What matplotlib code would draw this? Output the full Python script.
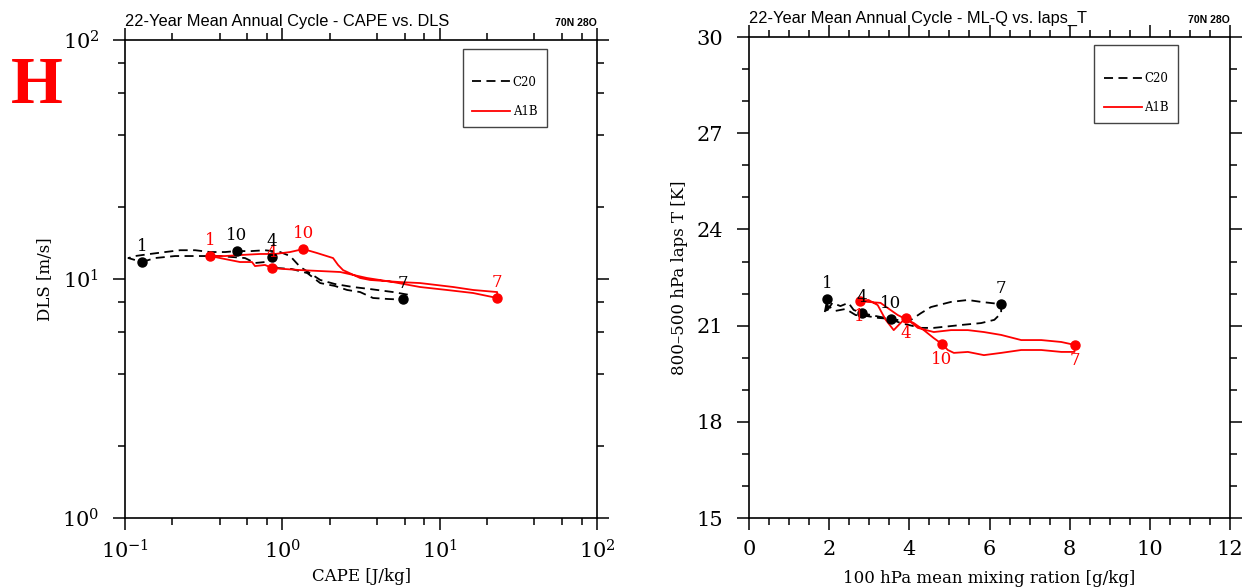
import matplotlib
matplotlib.use("Agg")
import matplotlib.pyplot as plt
from matplotlib.ticker import LogLocator, MultipleLocator, NullFormatter

plt.rcParams["font.family"] = "DejaVu Serif"
plt.rcParams["mathtext.fontset"] = "dejavuserif"

month_labels = ["1", "4", "7", "10"]

# ---- left panel: CAPE vs DLS (annual cycle traced Jan -> Apr -> Jul -> Oct -> Jan)
cape_c20 = [0.128, 0.155, 0.208, 0.300, 0.402, 0.579, 0.670, 0.776, 0.86,
            0.925, 1.15, 1.44, 1.74, 2.16, 2.58, 3.12, 3.77, 4.70, 5.85,
            6.48, 5.06, 3.61, 2.81, 2.16, 1.74, 1.46, 1.30, 1.12, 0.967, 0.776, 0.624, 0.515,
            0.433, 0.347, 0.279, 0.224, 0.180, 0.144, 0.116, 0.105, 0.128]
dls_c20 = [11.78, 12.24, 12.48, 12.48, 12.48, 12.24, 11.67, 11.78, 12.36,
           11.12, 11.01, 10.59, 9.62, 9.35, 9.00, 8.82, 8.33, 8.25, 8.20,
           8.57, 8.82, 9.08, 9.26, 9.53, 9.91, 10.70, 11.22, 12.48, 12.97, 13.2, 13.08, 13.1,
           12.97, 12.97, 13.2, 13.2, 12.97, 12.73, 12.48, 12.24, 11.78]
cape_a1b = [0.347, 0.433, 0.538, 0.641, 0.670, 0.776, 0.86,
            1.04, 1.30, 1.74, 2.33, 3.45, 5.06, 7.50, 11.1, 16.3, 23.2,
            23.2, 16.3, 12.2, 7.50, 5.60, 3.61, 3.12, 2.43, 2.26, 2.10, 1.66, 1.36,
            1.12, 0.899, 0.722, 0.538, 0.433, 0.347]
dls_a1b = [12.48, 12.12, 11.78, 11.78, 11.33, 11.45, 11.12,
           11.01, 10.90, 10.80, 10.70, 10.10, 9.71, 9.26, 9.00, 8.74, 8.33,
           8.82, 9.00, 9.26, 9.62, 9.71, 9.91, 10.10, 10.9, 11.45, 12.24, 12.85, 13.35,
           12.97, 12.73, 12.73, 12.6, 12.48, 12.48]
cape_c20_mon = [0.128, 0.86, 5.85, 0.515]
dls_c20_mon = [11.8, 12.4, 8.25, 13.1]
cape_a1b_mon = [0.347, 0.86, 23.2, 1.36]
dls_a1b_mon = [12.5, 11.1, 8.33, 13.35]

# ---- right panel: 100 hPa mixing ratio vs 800-500 hPa lapse
q_c20 = [1.955, 1.93, 2.08, 2.28, 2.48, 2.61, 2.81,
         3.16, 3.66, 4.04, 4.29, 4.54, 5.04, 5.46, 5.79, 6.29,
         6.29, 6.12, 5.79, 5.29, 4.61, 4.29, 3.78, 3.53,
         3.23, 2.93, 2.66, 2.41, 2.16, 1.98, 1.88, 1.955]
lapse_c20 = [21.83, 21.43, 21.71, 21.61, 21.71, 21.49, 21.39,
             21.30, 21.18, 21.18, 21.39, 21.58, 21.74, 21.80, 21.74, 21.67,
             21.39, 21.18, 21.08, 21.02, 20.93, 20.93, 21.08, 21.21,
             21.24, 21.30, 21.33, 21.52, 21.46, 21.61, 21.36, 21.83]
q_a1b = [2.76, 2.98, 3.21, 3.41, 3.61, 3.78, 3.91,
         4.21, 4.61, 5.04, 5.46, 5.86, 6.29, 6.79, 7.29, 7.79, 8.12,
         8.12, 7.79, 7.29, 6.79, 6.29, 5.86, 5.46, 5.11, 4.96, 4.81,
         4.61, 4.36, 4.11, 3.71, 3.46, 3.28, 2.96, 2.76]
lapse_a1b = [21.77, 21.80, 21.64, 21.18, 20.86, 21.08, 21.24,
             20.93, 20.80, 20.86, 20.86, 20.80, 20.71, 20.55, 20.55, 20.49, 20.40,
             20.18, 20.18, 20.24, 20.24, 20.15, 20.08, 20.18, 20.15, 20.24, 20.43,
             20.61, 20.86, 21.08, 21.33, 21.55, 21.71, 21.74, 21.77]
q_c20_mon = [1.955, 2.81, 6.29, 3.53]
lapse_c20_mon = [21.83, 21.39, 21.67, 21.21]
q_a1b_mon = [2.76, 3.91, 8.12, 4.81]
lapse_a1b_mon = [21.77, 21.24, 20.40, 20.43]

dash = (0, (5, 3))

fig = plt.figure(figsize=(12.54, 5.87), dpi=100)
ax1 = fig.add_axes([0.0997, 0.1175, 0.3764, 0.8143])
ax2 = fig.add_axes([0.5973, 0.1175, 0.3836, 0.8194])


def style_axes(ax):
    for s in ax.spines.values():
        s.set_linewidth(1.2)
    ax.tick_params(which="both", direction="out", top=True, right=True, width=1.1)
    ax.tick_params(which="major", length=8.5, labelsize=15)
    ax.tick_params(which="minor", length=5)
    ax.tick_params(axis="y", which="major", pad=10)
    ax.tick_params(axis="x", which="major", pad=7)


def add_legend(ax, loc):
    leg = ax.legend(loc="upper left", bbox_to_anchor=loc, fontsize=8.5, title=" ",
                    title_fontsize=1, handlelength=3.2, handletextpad=0.2,
                    labelspacing=1.36, borderpad=0.8, borderaxespad=0,
                    fancybox=False, framealpha=1)
    leg.get_frame().set_edgecolor("#444444")
    leg.get_frame().set_linewidth(1.0)


# left panel
ax1.plot(cape_c20, dls_c20, color="black", lw=1.3, ls=dash, label="C20")
ax1.plot(cape_a1b, dls_a1b, color="red", lw=1.3, label="A1B")
ax1.plot(cape_a1b_mon, dls_a1b_mon, "o", color="red", ms=6.5)
for lab, x, y in zip(month_labels, cape_a1b_mon, dls_a1b_mon):
    ax1.annotate(lab, (x, y), xytext=(0, 5), textcoords="offset points",
                 ha="center", va="bottom", fontsize=12, color="red")
ax1.plot(cape_c20_mon, dls_c20_mon, "o", color="black", ms=6.5)
for lab, x, y in zip(month_labels, cape_c20_mon, dls_c20_mon):
    ax1.annotate(lab, (x, y), xytext=(0, 5), textcoords="offset points",
                 ha="center", va="bottom", fontsize=12, color="black")
ax1.set_xscale("log")
ax1.set_yscale("log")
ax1.set_xlim(0.1, 100)
ax1.set_ylim(1, 100)
ax1.xaxis.set_minor_locator(LogLocator(base=10, subs=(2, 4, 6, 8)))
ax1.yaxis.set_minor_locator(LogLocator(base=10, subs=(2, 4, 6, 8)))
ax1.xaxis.set_minor_formatter(NullFormatter())
ax1.yaxis.set_minor_formatter(NullFormatter())
style_axes(ax1)
ax1.set_xlabel("CAPE [J/kg]", fontsize=12, labelpad=4)
ax1.set_ylabel("DLS [m/s]", fontsize=12, labelpad=6)
ax1.set_title("22-Year Mean Annual Cycle - CAPE vs. DLS", loc="left",
              fontsize=11.8, family="Liberation Sans", pad=9)
ax1.set_title("70N 28O", loc="right", fontsize=7.5, family="Liberation Sans",
              fontweight="bold", pad=10)
add_legend(ax1, (0.716, 0.981))

# right panel
ax2.plot(q_c20, lapse_c20, color="black", lw=1.3, ls=dash, label="C20")
ax2.plot(q_a1b, lapse_a1b, color="red", lw=1.3, label="A1B")
ax2.plot(q_c20_mon, lapse_c20_mon, "o", color="black", ms=6.5)
for lab, x, y in zip(month_labels, q_c20_mon, lapse_c20_mon):
    ax2.annotate(lab, (x, y), xytext=(0, 5), textcoords="offset points",
                 ha="center", va="bottom", fontsize=12, color="black")
ax2.plot(q_a1b_mon, lapse_a1b_mon, "o", color="red", ms=6.5)
for lab, x, y in zip(month_labels, q_a1b_mon, lapse_a1b_mon):
    ax2.annotate(lab, (x, y), xytext=(0, -5), textcoords="offset points",
                 ha="center", va="top", fontsize=12, color="red")
ax2.set_xlim(0, 12)
ax2.set_ylim(15, 30)
ax2.set_xticks(range(0, 13, 2))
ax2.set_yticks(range(15, 31, 3))
ax2.xaxis.set_minor_locator(MultipleLocator(0.5))
ax2.yaxis.set_minor_locator(MultipleLocator(1))
style_axes(ax2)
ax2.set_xlabel("100 hPa mean mixing ration [g/kg]", fontsize=12, labelpad=8)
ax2.set_ylabel("800\u2013500 hPa laps T [K]", fontsize=12, labelpad=6)
ax2.set_title("22-Year Mean Annual Cycle - ML-Q vs. laps_T", loc="left",
              fontsize=11.8, family="Liberation Sans", pad=9)
ax2.set_title("70N 28O", loc="right", fontsize=7.5, family="Liberation Sans",
              fontweight="bold", pad=10)
add_legend(ax2, (0.718, 0.983))

fig.text(0.029, 0.8245, "H", color="red", fontsize=48, fontweight="bold",
         family="Liberation Serif", ha="center", va="baseline")

fig.savefig("out.png", dpi=100)
